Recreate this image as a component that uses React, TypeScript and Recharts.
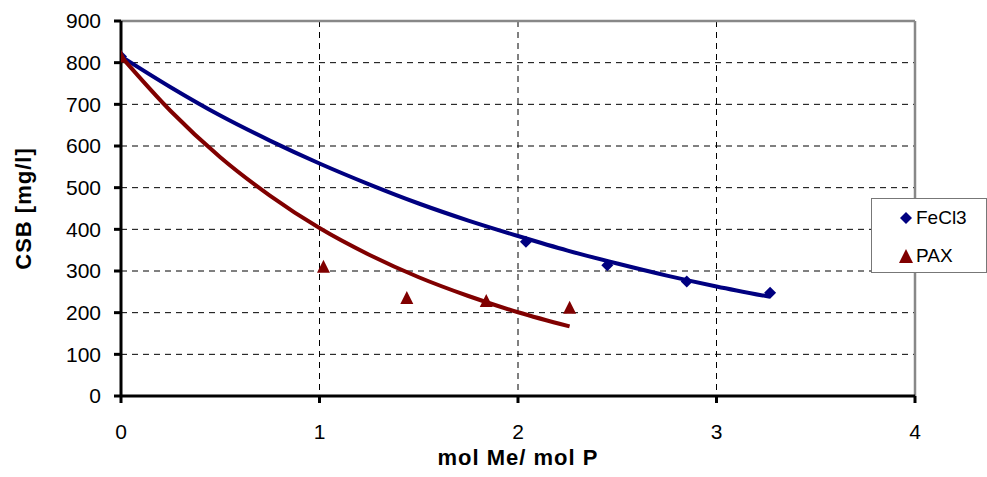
import React from 'react';
import {
  ComposedChart, Line, Scatter, XAxis, YAxis, CartesianGrid, ReferenceLine,
} from 'recharts';

// measured points
const fecl3Points = [
  { x: 0, y: 815 },
  { x: 2.04, y: 370 },
  { x: 2.45, y: 314 },
  { x: 2.85, y: 275 },
  { x: 3.27, y: 248 },
];
const paxPoints = [
  { x: 0, y: 815 },
  { x: 1.02, y: 310 },
  { x: 1.44, y: 235 },
  { x: 1.84, y: 228 },
  { x: 2.26, y: 212 },
];
// trend lines
const fecl3Trend = [
  { x: 0, y: 815 }, { x: 0.25, y: 741 }, { x: 0.5, y: 673 }, { x: 0.75, y: 613 },
  { x: 1, y: 558 }, { x: 1.25, y: 508 }, { x: 1.5, y: 462 }, { x: 1.75, y: 421 },
  { x: 2, y: 384 }, { x: 2.25, y: 349 }, { x: 2.5, y: 318 }, { x: 2.75, y: 289 },
  { x: 3, y: 263 }, { x: 3.27, y: 238 },
];
const paxTrend = [
  { x: 0, y: 815 }, { x: 0.25, y: 684 }, { x: 0.5, y: 573 }, { x: 0.75, y: 481 },
  { x: 1, y: 403 }, { x: 1.25, y: 339 }, { x: 1.5, y: 285 }, { x: 1.75, y: 240 },
  { x: 2, y: 201 }, { x: 2.26, y: 167 },
];
const xTicks = [0, 1, 2, 3, 4];
const yTicks = [0, 100, 200, 300, 400, 500, 600, 700, 800, 900];

const BLUE = '#000080';
const RED = '#800000';
const FONT = '"Liberation Sans", Arial, sans-serif';

const Diamond = (props: any) => {
  const { cx, cy } = props;
  if (cx == null || cy == null) return <g />;
  const r = 6;
  return <polygon points={`${cx},${cy - r} ${cx + r},${cy} ${cx},${cy + r} ${cx - r},${cy}`} fill={BLUE} />;
};
const Triangle = (props: any) => {
  const { cx, cy } = props;
  if (cx == null || cy == null) return <g />;
  return <polygon points={`${cx - 6.5},${cy + 6} ${cx + 6.5},${cy + 6} ${cx},${cy - 7}`} fill={RED} />;
};

export default function App() {
  return (
    <div style={{ position: 'absolute', left: 0, top: 0, width: 987, height: 477, background: '#fff' }}>
      <ComposedChart
        width={987}
        height={477}
        margin={{ top: 21, right: 72, bottom: 0, left: 0 }}
      >
        <CartesianGrid stroke="#000" strokeDasharray="6 5" strokeWidth={1} />
        <XAxis
          type="number"
          dataKey="x"
          domain={[0, 4]}
          ticks={xTicks}
          allowDataOverflow
          height={81}
          axisLine={{ stroke: '#000', strokeWidth: 3 }}
          tickLine={{ stroke: '#000', strokeWidth: 3 }}
          tickSize={7}
          tickMargin={21}
          tick={{ fill: '#000', fontSize: 21, fontFamily: FONT }}
          label={{
            value: 'mol Me/ mol P', position: 'insideBottom', offset: 12,
            style: { fill: '#000', fontSize: 22, fontWeight: 'bold', fontFamily: FONT, letterSpacing: 1 },
          }}
        />
        <YAxis
          type="number"
          domain={[0, 900]}
          ticks={yTicks}
          allowDataOverflow
          width={121}
          axisLine={{ stroke: '#000', strokeWidth: 3 }}
          tickLine={{ stroke: '#000', strokeWidth: 3 }}
          tickSize={7}
          tickMargin={13}
          tick={{ fill: '#000', fontSize: 21, fontFamily: FONT }}
          label={{
            value: 'CSB [mg/l]', angle: -90, position: 'insideLeft', offset: 23,
            style: { textAnchor: 'middle', fill: '#000', fontSize: 22, fontWeight: 'bold', fontFamily: FONT, letterSpacing: 1 },
          }}
        />
        <ReferenceLine y={900} stroke="#888" strokeWidth={2.5} />
        <ReferenceLine x={4} stroke="#888" strokeWidth={2.5} />
        <Scatter name="FeCl3" data={fecl3Points} dataKey="y" shape={Diamond} isAnimationActive={false} />
        <Scatter name="PAX" data={paxPoints} dataKey="y" shape={Triangle} isAnimationActive={false} />
        <Line data={fecl3Trend} dataKey="y" type="monotone" stroke={BLUE} strokeWidth={4} dot={false} activeDot={false} legendType="none" isAnimationActive={false} />
        <Line data={paxTrend} dataKey="y" type="monotone" stroke={RED} strokeWidth={4} dot={false} activeDot={false} legendType="none" isAnimationActive={false} />
      </ComposedChart>
      <div
        style={{
          position: 'absolute', left: 871, top: 198, width: 114, height: 73,
          border: '1.5px solid #777', background: '#fff', fontFamily: FONT, fontSize: 19, color: '#000',
        }}
      >
        <div style={{ position: 'absolute', left: 27, top: 8, display: 'flex', alignItems: 'center' }}>
          <svg width={14} height={14} style={{ marginRight: 3 }}>
            <polygon points="7,1 13,7 7,13 1,7" fill={BLUE} />
          </svg>
          <span>FeCl3</span>
        </div>
        <div style={{ position: 'absolute', left: 27, top: 46, display: 'flex', alignItems: 'center' }}>
          <svg width={14} height={14} style={{ marginRight: 3 }}>
            <polygon points="0,14 14,14 7,0" fill={RED} />
          </svg>
          <span>PAX</span>
        </div>
      </div>
    </div>
  );
}
